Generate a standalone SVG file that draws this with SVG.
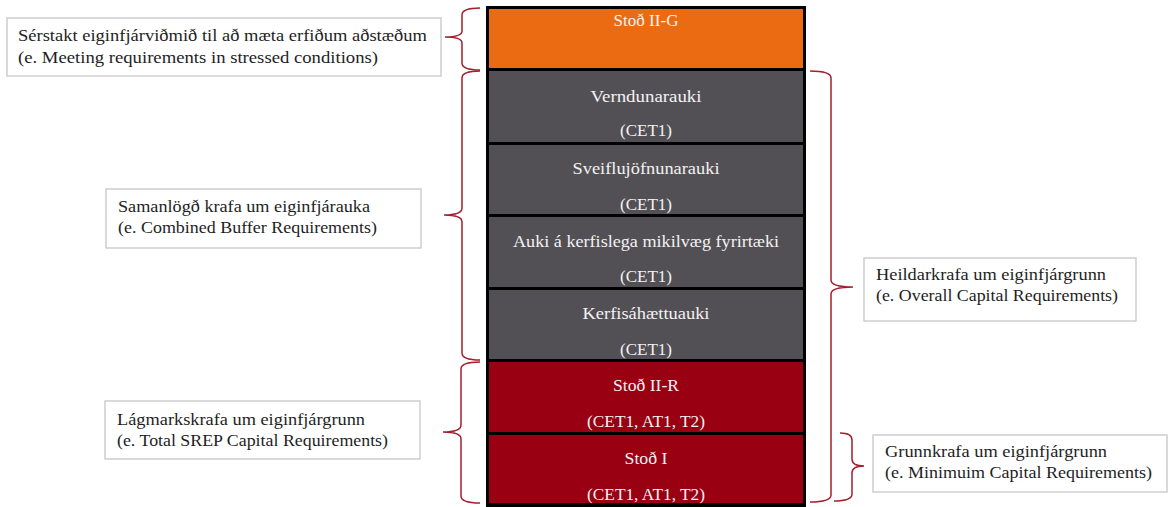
<svg xmlns="http://www.w3.org/2000/svg" width="1168" height="507" viewBox="0 0 1168 507">
<style>
.st{font-family:"Liberation Serif","DejaVu Serif",serif;font-size:17.5px;fill:#f2f2f2;text-anchor:middle}
.lb{font-family:"Liberation Serif","DejaVu Serif",serif;font-size:16.5px;fill:#1e1e1e}
.box{fill:#ffffff;stroke:#c6c6c6;stroke-width:1.3}
.br{fill:none;stroke:#a3202e;stroke-width:1.5}
.or{fill:#ea6b12}.gr{fill:#525055}.rd{fill:#990012}
</style>
<rect width="1168" height="507" fill="#ffffff"/>
<g id="stack">
<rect x="486" y="6" width="320" height="501" fill="#000000"/>
</g>
<g id="n-stod2g"><rect class="or" x="489" y="9" width="314" height="59"/><text class="st" x="646" y="26" textLength="65" lengthAdjust="spacingAndGlyphs">Stoð II-G</text></g>
<g id="n-vernd"><rect class="gr" x="489" y="71" width="314" height="71"/><text class="st" x="646" y="102" textLength="111" lengthAdjust="spacingAndGlyphs">Verndunarauki</text><text class="st" x="646" y="136" textLength="52" lengthAdjust="spacingAndGlyphs">(CET1)</text></g>
<g id="n-sveifl"><rect class="gr" x="489" y="145" width="314" height="69"/><text class="st" x="646" y="174" textLength="147" lengthAdjust="spacingAndGlyphs">Sveiflujöfnunarauki</text><text class="st" x="646" y="210" textLength="52" lengthAdjust="spacingAndGlyphs">(CET1)</text></g>
<g id="n-auki"><rect class="gr" x="489" y="217" width="314" height="70"/><text class="st" x="646" y="247" textLength="266" lengthAdjust="spacingAndGlyphs">Auki á kerfislega mikilvæg fyrirtæki</text><text class="st" x="646" y="282" textLength="52" lengthAdjust="spacingAndGlyphs">(CET1)</text></g>
<g id="n-kerf"><rect class="gr" x="489" y="290" width="314" height="69"/><text class="st" x="646" y="319" textLength="127" lengthAdjust="spacingAndGlyphs">Kerfisáhættuauki</text><text class="st" x="646" y="355" textLength="52" lengthAdjust="spacingAndGlyphs">(CET1)</text></g>
<g id="n-stod2r"><rect class="rd" x="489" y="362" width="314" height="70"/><text class="st" x="646" y="391" textLength="66" lengthAdjust="spacingAndGlyphs">Stoð II-R</text><text class="st" x="646" y="427" textLength="118" lengthAdjust="spacingAndGlyphs">(CET1, AT1, T2)</text></g>
<g id="n-stod1"><rect class="rd" x="489" y="435" width="314" height="68"/><text class="st" x="646" y="464" textLength="43" lengthAdjust="spacingAndGlyphs">Stoð I</text><text class="st" x="646" y="500" textLength="118" lengthAdjust="spacingAndGlyphs">(CET1, AT1, T2)</text></g>
<g id="connectors">
<path class="br" d="M480,8 Q462,8 462,15 L462,31 Q462,37 445,37 Q462,37 462,43 L462,63 Q462,70 480,70"/>
<path class="br" d="M480,71 Q462,71 462,78 L462,208 Q462,215 444,215 Q462,215 462,222 L462,353 Q462,360 480,360"/>
<path class="br" d="M480,362 Q461,362 461,369 L461,425 Q461,432 443,432 Q461,432 461,439 L461,496 Q461,503 480,503"/>
<path class="br" d="M810,71 Q831,71 831,78 L831,280 Q831,287 853,287 Q831,287 831,294 L831,495 Q831,502 810,502"/>
<path class="br" d="M840,433 Q852,433 852,440 L852,459 Q852,466 864,466 Q852,466 852,473 L852,494 Q852,501 834,501"/>
</g>
<g id="l-sertakt"><rect class="box" x="7" y="18" width="434" height="58"/><text class="lb" x="18" y="41" textLength="409" lengthAdjust="spacingAndGlyphs">Sérstakt eiginfjárviðmið til að mæta erfiðum aðstæðum</text><text class="lb" x="18" y="63" textLength="360" lengthAdjust="spacingAndGlyphs">(e. Meeting requirements in stressed conditions)</text></g>
<g id="l-saman"><rect class="box" x="106" y="189" width="315" height="59"/><text class="lb" x="118" y="212" textLength="252" lengthAdjust="spacingAndGlyphs">Samanlögð krafa um eiginfjárauka</text><text class="lb" x="118" y="233" textLength="259" lengthAdjust="spacingAndGlyphs">(e. Combined Buffer Requirements)</text></g>
<g id="l-lagm"><rect class="box" x="105" y="401" width="315" height="58"/><text class="lb" x="117" y="425" textLength="248" lengthAdjust="spacingAndGlyphs">Lágmarkskrafa um eiginfjárgrunn</text><text class="lb" x="117" y="446" textLength="271" lengthAdjust="spacingAndGlyphs">(e. Total SREP Capital Requirements)</text></g>
<g id="l-heild"><rect class="box" x="864" y="258" width="272" height="63"/><text class="lb" x="876" y="280" textLength="230" lengthAdjust="spacingAndGlyphs">Heildarkrafa um eiginfjárgrunn</text><text class="lb" x="876" y="301" textLength="242" lengthAdjust="spacingAndGlyphs">(e. Overall Capital Requirements)</text></g>
<g id="l-grunn"><rect class="box" x="873" y="435" width="294" height="57"/><text class="lb" x="885" y="457" textLength="222" lengthAdjust="spacingAndGlyphs">Grunnkrafa um eiginfjárgrunn</text><text class="lb" x="885" y="478" textLength="267" lengthAdjust="spacingAndGlyphs">(e. Minimuim Capital Requirements)</text></g>
</svg>
